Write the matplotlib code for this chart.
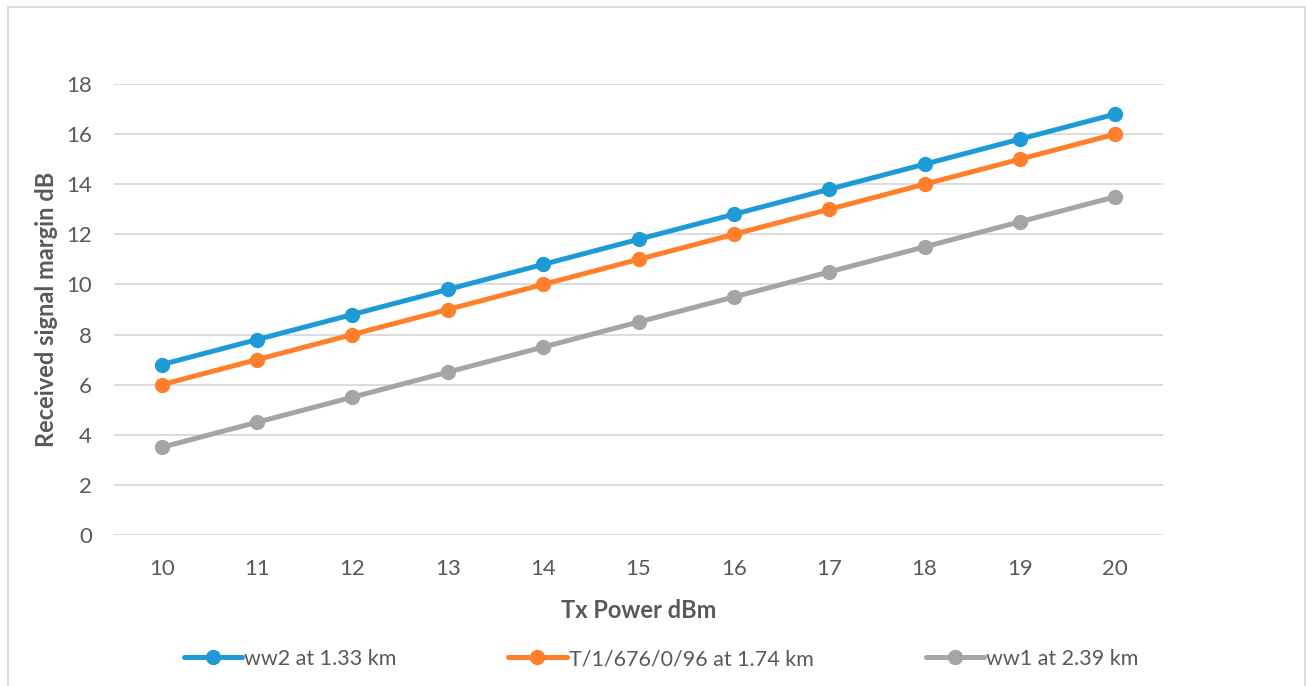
import matplotlib
matplotlib.use("Agg")
import matplotlib.pyplot as plt
from matplotlib.patches import Rectangle

categories = ["10", "11", "12", "13", "14", "15", "16", "17", "18", "19", "20"]
ww2 = [6.8, 7.8, 8.8, 9.8, 10.8, 11.8, 12.8, 13.8, 14.8, 15.8, 16.8]
t1 = [6, 7, 8, 9, 10, 11, 12, 13, 14, 15, 16]
ww1 = [3.5, 4.5, 5.5, 6.5, 7.5, 8.5, 9.5, 10.5, 11.5, 12.5, 13.5]
series_names = ["ww2 at 1.33 km", "T/1/676/0/96 at 1.74 km", "ww1 at 2.39 km"]
colors = ["#1E9BD7", "#FF7F2A", "#A5A5A5"]
yticks = [0, 2, 4, 6, 8, 10, 12, 14, 16, 18]

plt.rcParams['font.family'] = ['Lato', 'DejaVu Sans']
txt = "#595959"

W, H = 1306, 686
fig = plt.figure(figsize=(W / 100, H / 100), dpi=100)
ax = fig.add_axes([114 / W, 1 - 535 / H, (1163 - 114) / W, (535 - 84) / H])

x = list(range(len(categories)))
handles = []
for vals, name, c in zip([ww2, t1, ww1], series_names, colors):
    h, = ax.plot(x, vals, color=c, lw=3.6, marker="o", markersize=10,
                 solid_capstyle="round", label=name, zorder=3)
    handles.append(h)

ax.set_xlim(-0.5, len(categories) - 0.5)
ax.set_ylim(0, 18)
ax.set_xticks(x)
ax.set_xticklabels(categories)
ax.set_yticks(yticks)
ax.tick_params(length=0, labelsize=16, colors=txt, pad=16)
ax.tick_params(axis="x", pad=17)
ax.grid(axis="y", color="#D9D9D9", lw=1.3)
ax.set_axisbelow(True)
for s in ax.spines.values():
    s.set_visible(False)

ax.set_xlabel("Tx Power dBm", fontsize=17, fontweight="bold", color=txt, labelpad=15)
ax.set_ylabel("Received signal margin dB", fontsize=17, fontweight="bold", color=txt, labelpad=6)

fig.legend(handles=handles, labels=series_names, loc="center", bbox_to_anchor=(661 / W, 1 - 659 / H),
           ncol=3, frameon=False, fontsize=15.5, labelcolor=txt, handlelength=2.7,
           handletextpad=0.1, columnspacing=5.2)

fig.patches.append(Rectangle((8 / W, -0.1), (1305 - 8) / W, 1 - 7 / H + 0.1, transform=fig.transFigure,
                             fill=False, edgecolor="#D9D9D9", lw=1.3))

fig.savefig("out.png", dpi=100)
